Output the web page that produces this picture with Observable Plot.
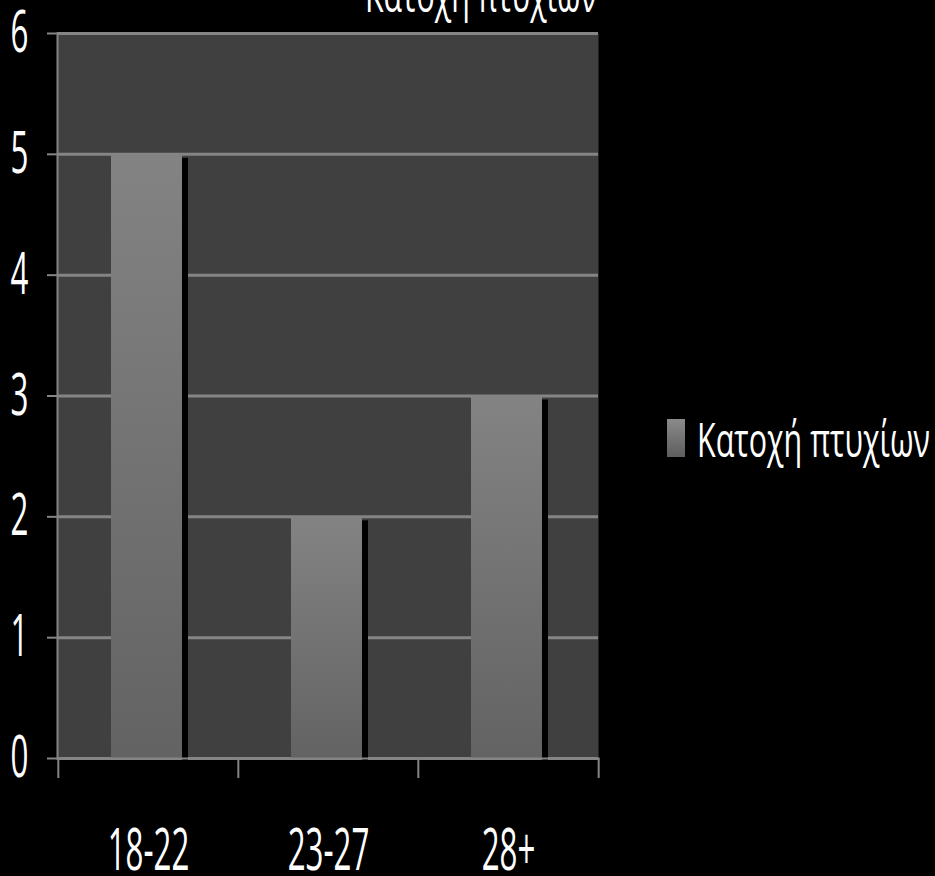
<!DOCTYPE html>
<html><head><meta charset="utf-8">
<script src="https://cdn.jsdelivr.net/npm/d3@7"></script>
<script src="https://cdn.jsdelivr.net/npm/@observablehq/plot@0.6"></script>
<style>
html,body{margin:0;background:#000;}
#wrap{position:relative;width:935px;height:876px;overflow:hidden;background:#000;}
#overlay{position:absolute;left:0;top:0;pointer-events:none;}
</style></head><body><div id="wrap"></div>
<script>
const categories = ["18-22", "23-27", "28+"];
const values = [5, 2, 3];
const yTicks = [0, 1, 2, 3, 4, 5, 6];
const seriesName = "Κατοχή πτυχίων";
const data = categories.map((c, i) => ({category: c, value: values[i]}));

const W = 935, H = 876, mL = 57, mR = 337, mT = 33, mB = 118;
const step = (W - mL - mR) / categories.length;
const gray = "#858585";
const font = "'Open Sans', 'Noto Sans', sans-serif";

const plot = Plot.plot({
  width: W, height: H,
  marginLeft: mL, marginRight: mR, marginTop: mT, marginBottom: mB,
  style: {background: "#000", color: "#fff", fontFamily: font, fontSize: "58px", overflow: "visible"},
  x: {domain: categories, padding: 0, label: null, axis: null},
  y: {domain: [0, 6], label: null, axis: null},
  marks: [
    Plot.frame({fill: "#404040", stroke: "none"}),
    Plot.gridY(yTicks, {stroke: gray, strokeOpacity: 1, strokeWidth: 3}),
    Plot.barY(data, {x: "category", y: "value", fill: "#000", insetLeft: 124, insetRight: 50, dy: 4}),
    Plot.barY(data, {x: "category", y: "value", fill: "url(#barGrad)", insetLeft: 53, insetRight: 56}),
    Plot.frame({anchor: "left", stroke: gray, strokeWidth: 2}),
    Plot.frame({anchor: "bottom", stroke: gray, strokeWidth: 2}),
    Plot.axisY(yTicks, {tickSize: 10, tickPadding: 19, stroke: gray, strokeWidth: 2, fill: "#fff", tickFormat: d => String(d), label: null}),
    Plot.axisX(categories, {tickSize: 20, dx: -step / 2, stroke: gray, strokeWidth: 2, tickFormat: () => "", label: null}),
    Plot.axisX([categories[categories.length - 1]], {tickSize: 20, dx: step / 2, stroke: gray, strokeWidth: 2, tickFormat: () => "", label: null}),
    Plot.axisX(categories, {tickSize: 0, tickPadding: 70, fill: "#fff", label: null})
  ]
});

const svg = d3.select(plot);
const defs = svg.insert("defs", ":first-child");
const g = defs.append("linearGradient").attr("id", "barGrad").attr("x1", 0).attr("y1", 0).attr("x2", 0).attr("y2", 1);
g.append("stop").attr("offset", "0%").attr("stop-color", "#838383");
g.append("stop").attr("offset", "100%").attr("stop-color", "#636363");

// condense the text horizontally like the reference's narrow lettering
const s = 0.54;
svg.selectAll("text").each(function () {
  const t = this.getAttribute("transform") || "";
  const xa = this.getAttribute("x");
  let x = 0;
  if (xa != null && !isNaN(+xa)) { x = +xa; this.removeAttribute("x"); }
  this.setAttribute("transform", `${t} translate(${x},0) scale(${s},1)`);
});

const wrap = document.getElementById("wrap");
wrap.appendChild(plot);

// title (cut off at top) and legend
const ov = d3.select(wrap).append("svg").attr("id", "overlay").attr("width", W).attr("height", H)
  .style("font-family", font);
const od = ov.append("defs").append("linearGradient").attr("id", "legGrad").attr("x1", 0).attr("y1", 0).attr("x2", 0).attr("y2", 1);
od.append("stop").attr("offset", "0%").attr("stop-color", "#8a8a8a");
od.append("stop").attr("offset", "100%").attr("stop-color", "#5e5e5e");
ov.append("text").attr("x", 481).attr("y", 12).attr("text-anchor", "middle").attr("fill", "#fff")
  .attr("font-size", 47).attr("textLength", 232).attr("lengthAdjust", "spacingAndGlyphs").text(seriesName);
ov.append("rect").attr("x", 667).attr("y", 419).attr("width", 18).attr("height", 38).attr("fill", "url(#legGrad)");
ov.append("text").attr("x", 697).attr("y", 457).attr("fill", "#fff")
  .attr("font-size", 48).attr("textLength", 233).attr("lengthAdjust", "spacingAndGlyphs").text(seriesName);
</script></body></html>
